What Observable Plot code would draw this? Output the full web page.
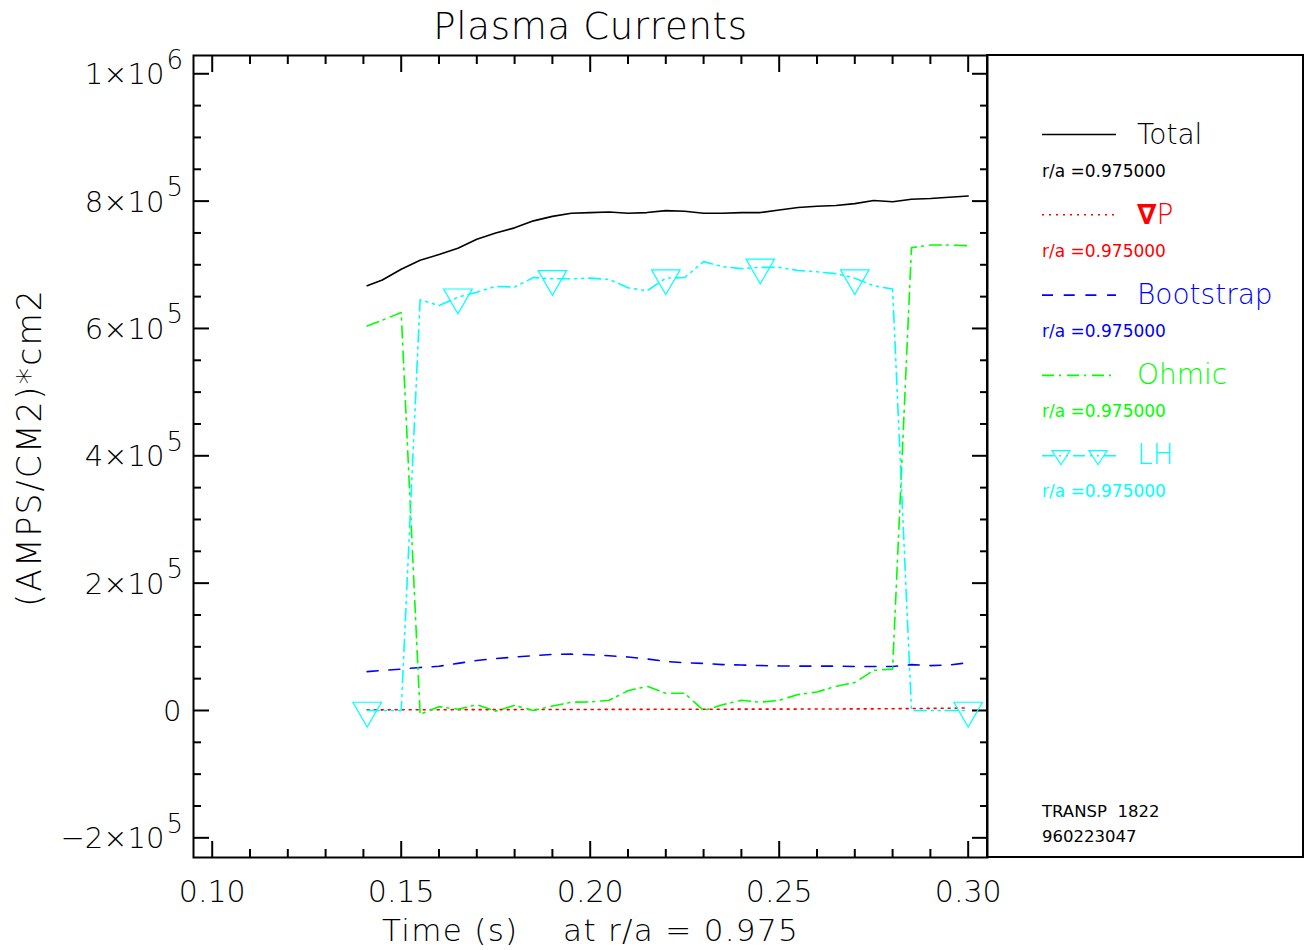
<!DOCTYPE html>
<html>
<head>
<meta charset="utf-8">
<script src="https://cdn.jsdelivr.net/npm/d3@7"></script>
<script src="https://cdn.jsdelivr.net/npm/@observablehq/plot@0.6"></script>
<style>
  html, body { margin: 0; padding: 0; background: #fff; }
  #chart svg text { white-space: pre; font-weight: 200; }
  #chart svg text.small { font-weight: 400; }
</style>
</head>
<body>
<div id="chart"></div>
<script>
// Time base (s) of the TRANSP run, sampled at r/a = 0.975
const times = [0.141, 0.145, 0.150, 0.155, 0.160, 0.165, 0.170, 0.175, 0.180, 0.185,
  0.190, 0.195, 0.200, 0.205, 0.210, 0.215, 0.220, 0.225, 0.230, 0.235,
  0.240, 0.245, 0.250, 0.255, 0.260, 0.265, 0.270, 0.275, 0.280, 0.285,
  0.290, 0.295, 0.300];

// Current densities, (AMPS/CM2)*cm2
const totalCurrent = [667000, 676000, 693000, 707000, 716000, 726000, 740000, 750000, 758000, 769000,
  776000, 781000, 782000, 783000, 781000, 782000, 785000, 784000, 781000, 781000,
  782000, 782000, 786000, 790000, 792000, 793000, 796000, 801000, 799000, 803000,
  804000, 806000, 808000];
const gradPCurrent = [1000, 1000, 1100, 1200, 1200, 1300, 1300, 1400, 1400, 1500,
  1500, 1600, 1600, 1700, 1800, 1800, 1900, 1900, 2000, 2000,
  2100, 2100, 2200, 2200, 2300, 2400, 2500, 2600, 2800, 3000,
  3300, 3600, 4000];
const bootstrapCurrent = [61000, 63000, 65000, 67500, 69500, 74000, 78500, 81500, 84000, 86000,
  88000, 88500, 87500, 86000, 84000, 81000, 77000, 75000, 74000, 72000,
  71400, 70600, 70000, 69600, 69600, 69600, 69000, 69000, 69000, 72000,
  70500, 71500, 75000];
const ohmicCurrent = [604000, 613000, 625000, -6000, 6000, 2000, 9000, -1000, 8000, 0,
  7000, 13000, 13500, 16000, 31000, 38000, 27000, 27000, 0, 9000,
  16000, 13000, 16000, 25000, 29000, 38000, 44000, 63000, 65000, 727000,
  731000, 731000, 730000];
const lhCurrent = [0, 0, 0, 645000, 636000, 649000, 657000, 666000, 665000, 680000,
  678000, 678000, 679000, 677000, 664000, 659000, 679000, 680000, 705000, 697000,
  694000, 696000, 696000, 691000, 689000, 686000, 679000, 667000, 662000, 0,
  0, 0, 0];
// Samples of the LH trace that carry a symbol
const lhMarkerTimes = [0.141, 0.165, 0.190, 0.220, 0.245, 0.270, 0.300];

// Axis ticks and labels
const xMajorTicks = [0.10, 0.15, 0.20, 0.25, 0.30];
const xTickLabels = ["0.10", "0.15", "0.20", "0.25", "0.30"];
const xMinorTicks = [0.11, 0.12, 0.13, 0.14, 0.16, 0.17, 0.18, 0.19,
  0.21, 0.22, 0.23, 0.24, 0.26, 0.27, 0.28, 0.29];
const yMajorTicks = [-200000, 0, 200000, 400000, 600000, 800000, 1000000];
const yTickMantissas = ["−2×10", "0", "2×10", "4×10", "6×10", "8×10", "1×10"];
const yTickExponents = ["5", "", "5", "5", "5", "5", "6"];
const yMinorTicks = [-150000, -100000, -50000, 50000, 100000, 150000, 250000, 300000, 350000,
  450000, 500000, 550000, 650000, 700000, 750000, 850000, 900000, 950000];

// Titles
const chartTitle = "Plasma Currents";
const xTitle = "Time (s)    at r/a = 0.975";
const yTitle = "(AMPS/CM2)*cm2";

// Series styling
const seriesNames = ["Total", "∇P", "Bootstrap", "Ohmic", "LH"];
const seriesColors = ["#000000", "#ff0000", "#0000ff", "#00ff00", "#00ffff"];
const seriesDashes = [null, "2,5", "11,10.7", "12,5,2,6", "12,5,2,5,2,5"];
const radiusLabel = "r/a =0.975000";
const runLabels = ["TRANSP  1822", "960223047"];

const seriesValues = [totalCurrent, gradPCurrent, bootstrapCurrent, ohmicCurrent, lhCurrent];
const seriesRows = seriesValues.map(vals => times.map((t, i) => ({t, v: vals[i]})));
const lhMarkers = seriesRows[4].filter(d => lhMarkerTimes.includes(d.t));

// Open downward-pointing triangle, centred on its centroid
const triangleDown = {
  draw(ctx, size) {
    const s = Math.sqrt(size / (Math.sqrt(3) / 4));
    const h = s * Math.sqrt(3) / 2;
    ctx.moveTo(-s / 2, -h / 3);
    ctx.lineTo(s / 2, -h / 3);
    ctx.lineTo(0, 2 * h / 3);
    ctx.closePath();
  }
};

const font = "'DejaVu Sans', 'Liberation Sans', sans-serif";
const noText = () => "";
const tickAxis = (axis, anchor, ticks, size) =>
  axis(ticks, {anchor, tickSize: -size, tickFormat: noText, label: null, strokeWidth: 2, stroke: "#000"});

const withExp = yMajorTicks.map((v, i) => i).filter(i => yTickExponents[i] !== "");
const noExp = yMajorTicks.map((v, i) => i).filter(i => yTickExponents[i] === "");

const chart = Plot.plot({
  width: 1304,
  height: 950,
  marginLeft: 193,
  marginRight: 317,
  marginTop: 55,
  marginBottom: 93,
  x: {domain: [0.09505, 0.30511], axis: null},
  y: {domain: [-230900, 1028700], axis: null},
  style: {fontFamily: font, background: "#fff", color: "#000", overflow: "visible"},
  marks: [
    // inward ticks on all four sides of the frame
    tickAxis(Plot.axisX, "bottom", xMajorTicks, 16),
    tickAxis(Plot.axisX, "bottom", xMinorTicks, 8),
    tickAxis(Plot.axisX, "top", xMajorTicks, 16),
    tickAxis(Plot.axisX, "top", xMinorTicks, 8),
    tickAxis(Plot.axisY, "left", yMajorTicks, 16),
    tickAxis(Plot.axisY, "left", yMinorTicks, 8),
    tickAxis(Plot.axisY, "right", yMajorTicks, 16),
    tickAxis(Plot.axisY, "right", yMinorTicks, 8),

    // tick labels
    Plot.text(xMajorTicks, {x: d => d, frameAnchor: "bottom", dy: 44, lineAnchor: "bottom",
      text: (d, i) => xTickLabels[i], fontSize: 30, fill: "#000"}),
    Plot.text(withExp, {y: i => yMajorTicks[i], frameAnchor: "left", dx: -29, dy: 10.5,
      textAnchor: "end", lineAnchor: "bottom", text: i => yTickMantissas[i], fontSize: 29, fill: "#000"}),
    Plot.text(withExp, {y: i => yMajorTicks[i], frameAnchor: "left", dx: -27, dy: -5,
      textAnchor: "start", lineAnchor: "bottom", text: i => yTickExponents[i], fontSize: 26, fill: "#000"}),
    Plot.text(noExp, {y: i => yMajorTicks[i], frameAnchor: "left", dx: -12, dy: 10.5,
      textAnchor: "end", lineAnchor: "bottom", text: i => yTickMantissas[i], fontSize: 29, fill: "#000"}),

    // titles
    Plot.text([chartTitle], {frameAnchor: "top", dy: -17, lineAnchor: "bottom",
      fontSize: 37, fill: "#000"}),
    Plot.text([xTitle], {frameAnchor: "bottom", dy: 83, lineAnchor: "bottom",
      fontSize: 31, fill: "#000"}),
    Plot.text([yTitle], {frameAnchor: "left", dx: -163, dy: -9, rotate: -90,
      textAnchor: "middle", fontSize: 33, fill: "#000"}),

    // current traces
    ...seriesRows.map((rows, k) => Plot.line(rows, {
      x: "t", y: "v", stroke: seriesColors[k], strokeWidth: 1.6,
      strokeDasharray: seriesDashes[k], strokeLinejoin: "miter"
    })),
    Plot.dot(lhMarkers, {x: "t", y: "v", symbol: triangleDown, r: 10.6, fill: "none",
      stroke: seriesColors[4], strokeWidth: 1.2}),

    Plot.frame({stroke: "#000", strokeWidth: 2})
  ]
});

const svg = d3.select(chart);

// wider letter spacing on the three titles
const spacing = new Map([[chartTitle, 0.7], [xTitle, 1.3], [yTitle, 2.1]]);
svg.selectAll("text")
  .filter(function() { return spacing.has(this.textContent); })
  .style("letter-spacing", function() { return spacing.get(this.textContent) + "px"; });

// Legend panel to the right of the plot frame
const legend = svg.append("g").attr("font-family", font).attr("text-anchor", "start");
legend.append("rect")
  .attr("x", 987).attr("y", 55).attr("width", 316).attr("height", 802)
  .attr("fill", "none").attr("stroke", "#000").attr("stroke-width", 2);

seriesNames.forEach((name, i) => {
  const ly = 134.5 + 80.3 * i;
  legend.append("line")
    .attr("x1", 1042).attr("x2", 1116).attr("y1", ly).attr("y2", ly)
    .attr("stroke", seriesColors[i]).attr("stroke-width", 1.6)
    .attr("stroke-dasharray", seriesDashes[i]);
  const label = legend.append("text")
    .attr("x", 1137).attr("y", 143.5 + 80 * i)
    .attr("font-size", 28).attr("fill", seriesColors[i]);
  if (name.startsWith("∇")) {
    label.append("tspan").style("font-weight", 700).text("∇");
    label.append("tspan").text(name.slice(1));
  } else {
    label.text(name);
  }
  legend.append("text")
    .attr("class", "small")
    .attr("x", 1042).attr("y", 176.7 + 80 * i)
    .attr("font-size", 17).attr("fill", seriesColors[i])
    .text(radiusLabel);
});

// small symbols on the LH legend sample
const lhY = 134.5 + 80.3 * 4;
[1061, 1098].forEach(cx => {
  legend.append("path")
    .attr("d", `M${cx - 9},${lhY - 5}L${cx + 9},${lhY - 5}L${cx},${lhY + 9}Z`)
    .attr("fill", "none").attr("stroke", seriesColors[4]).attr("stroke-width", 1.2);
});

runLabels.forEach((t, i) => {
  legend.append("text")
    .attr("class", "small")
    .attr("x", 1042).attr("y", 817 + 25 * i)
    .attr("font-size", 16.5).attr("fill", "#000")
    .text(t);
});

document.getElementById("chart").appendChild(chart);
</script>
</body>
</html>
